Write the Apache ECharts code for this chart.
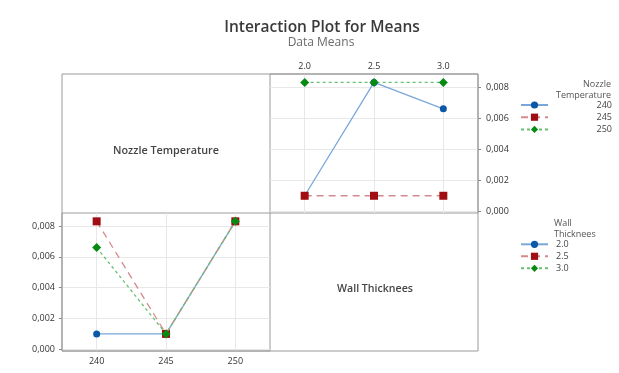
<!DOCTYPE html>
<html>
<head>
<meta charset="utf-8">
<script src="https://cdn.jsdelivr.net/npm/echarts@6/dist/echarts.min.js"></script>
<style>
html,body{margin:0;padding:0;background:#fff;}
#chart{width:619px;height:373px;}
</style>
</head>
<body>
<div id="chart"></div>
<script>
// ---- data ----
const wallThickness = [2.0, 2.5, 3.0];
const nozzleTemps = [240, 245, 250];
// mean response for each nozzle temperature across wall thickness levels
const meansNozzle240 = [0.0010, 0.0083, 0.0066];
const meansNozzle245 = [0.0010, 0.0010, 0.0010];
const meansNozzle250 = [0.0083, 0.0083, 0.0083];
const yTicks = [0, 0.002, 0.004, 0.006, 0.008];
const yMin = -0.00011, yMax = 0.00884;

const byNozzle = [meansNozzle240, meansNozzle245, meansNozzle250];

const styles = [
  {symbol: 'circle', size: 7, mark: '#0b57a8', line: '#7aa7da', type: 'solid'},
  {symbol: 'rect', size: 8, mark: '#a00d12', line: '#d48a8c', type: [7, 5]},
  {symbol: 'diamond', size: 9, mark: '#078a12', line: '#68c070', type: [3, 3]}
];

const fmtY = v => v.toFixed(3).replace('.', ',');
const fontFam = '"Open Sans", "Noto Sans", sans-serif';

const series = [];
// top-right panel: x = wall thickness, one line per nozzle temperature
nozzleTemps.forEach((t, i) => {
  const s = styles[i];
  series.push({
    name: String(t), type: 'line', xAxisIndex: 0, yAxisIndex: 0,
    data: wallThickness.map((w, j) => [w, byNozzle[i][j]]),
    symbol: s.symbol, symbolSize: s.size,
    itemStyle: {color: s.mark},
    lineStyle: {color: s.line, width: 1.3, type: s.type},
    z: 3 + i
  });
});
// bottom-left panel: x = nozzle temperature, one line per wall thickness
wallThickness.forEach((w, j) => {
  const s = styles[j];
  series.push({
    name: w.toFixed(1), type: 'line', xAxisIndex: 1, yAxisIndex: 1,
    data: nozzleTemps.map((t, i) => [t, byNozzle[i][j]]),
    symbol: s.symbol, symbolSize: s.size,
    itemStyle: {color: s.mark},
    lineStyle: {color: s.line, width: 1.3, type: s.type},
    z: 3 + j
  });
});

const gridBorder = '#9a9a9a';
const splitColor = '#e8e8e8';
const labelStyle = {fontSize: 9, color: '#333', fontFamily: fontFam};

const option = {
  animation: false,
  backgroundColor: '#fff',
  grid: [
    {left: 270, top: 74, width: 208, height: 139, show: true, borderColor: gridBorder, borderWidth: 1, backgroundColor: 'transparent'},
    {left: 62, top: 213, width: 208, height: 138, show: true, borderColor: gridBorder, borderWidth: 1, backgroundColor: 'transparent'}
  ],
  xAxis: [
    {type: 'value', gridIndex: 0, position: 'top', min: 1.75, max: 3.25,
     axisLine: {show: false},
     axisTick: {show: false, customValues: wallThickness},
     axisLabel: Object.assign({customValues: wallThickness, margin: 3, formatter: v => v.toFixed(1)}, labelStyle),
     splitLine: {show: true, lineStyle: {color: splitColor, width: 1}}},
    {type: 'value', gridIndex: 1, position: 'bottom', min: 237.5, max: 252.5,
     axisLine: {show: false},
     axisTick: {show: false, customValues: nozzleTemps},
     axisLabel: Object.assign({customValues: nozzleTemps, margin: 6, formatter: v => String(v)}, labelStyle),
     splitLine: {show: true, lineStyle: {color: splitColor, width: 1}}}
  ],
  yAxis: [
    {type: 'value', gridIndex: 0, position: 'right', min: yMin, max: yMax,
     axisLine: {show: false},
     axisTick: {show: true, length: 3, lineStyle: {color: '#888'}, customValues: yTicks},
     axisLabel: Object.assign({customValues: yTicks, margin: 8, formatter: fmtY}, labelStyle),
     splitLine: {show: true, lineStyle: {color: splitColor, width: 1}}},
    {type: 'value', gridIndex: 1, position: 'left', min: yMin, max: yMax,
     axisLine: {show: false},
     axisTick: {show: true, length: 3, lineStyle: {color: '#888'}, customValues: yTicks},
     axisLabel: Object.assign({customValues: yTicks, margin: 7, formatter: fmtY}, labelStyle),
     splitLine: {show: true, lineStyle: {color: splitColor, width: 1}}}
  ],
  legend: [
    {data: nozzleTemps.map(String), orient: 'vertical', left: 520, top: 100.5, padding: 0,
     itemWidth: 27, itemHeight: 9, itemGap: 3.2, selectedMode: false,
     formatter: name => '{r|' + name + '}',
     textStyle: {rich: {r: {width: 59, align: 'right', fontSize: 9, color: '#444', fontFamily: fontFam}}}},
    {data: wallThickness.map(w => w.toFixed(1)), orient: 'vertical', left: 520, top: 239.8, padding: 0,
     itemWidth: 27, itemHeight: 9, itemGap: 3, selectedMode: false,
     formatter: name => '{l|' + name + '}',
     textStyle: {rich: {l: {padding: [0, 0, 0, 3], fontSize: 9, color: '#444', fontFamily: fontFam}}}}
  ],
  graphic: [
    {type: 'rect', silent: true, z: 10, shape: {x: 62, y: 74, width: 416, height: 277},
     style: {fill: 'none', stroke: gridBorder, lineWidth: 1}},
    {type: 'text', x: 322, y: 28, silent: true,
     style: {text: 'Interaction Plot for Means', align: 'center', verticalAlign: 'middle', fontSize: 15.5, fontWeight: 600, fill: '#3a3a3a', fontFamily: fontFam}},
    {type: 'text', x: 321, y: 43, silent: true,
     style: {text: 'Data Means', align: 'center', verticalAlign: 'middle', fontSize: 12, fill: '#6a6a6a', fontFamily: fontFam}},
    {type: 'text', x: 166, y: 151, silent: true,
     style: {text: 'Nozzle Temperature', align: 'center', verticalAlign: 'middle', fontSize: 10.8, fontWeight: 600, fill: '#444', fontFamily: fontFam}},
    {type: 'text', x: 375, y: 289, silent: true,
     style: {text: 'Wall Thicknees', align: 'center', verticalAlign: 'middle', fontSize: 10.6, fontWeight: 600, fill: '#444', fontFamily: fontFam}},
    {type: 'text', x: 611, y: 78.5, silent: true,
     style: {text: 'Nozzle\nTemperature', align: 'right', verticalAlign: 'top', fontSize: 9, lineHeight: 11, fill: '#555', fontFamily: fontFam}},
    {type: 'text', x: 554, y: 218, silent: true,
     style: {text: 'Wall\nThicknees', align: 'left', verticalAlign: 'top', fontSize: 9, lineHeight: 11, fill: '#555', fontFamily: fontFam}}
  ],
  series: series
};

const chart = echarts.init(document.getElementById('chart'), null, {renderer: 'canvas'});
chart.setOption(option);
</script>
</body>
</html>
